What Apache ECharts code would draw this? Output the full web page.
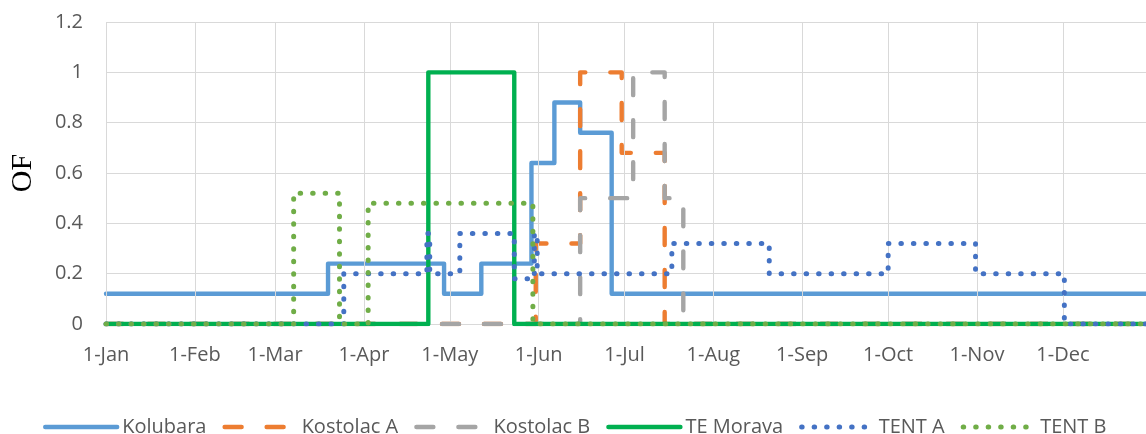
<!DOCTYPE html>
<html>
<head>
<meta charset="utf-8">
<script src="https://cdn.jsdelivr.net/npm/echarts@6/dist/echarts.min.js"></script>
<style>
  html, body { margin: 0; padding: 0; background: #ffffff; }
  #chart { width: 1146px; height: 434px; }
</style>
</head>
<body>
<div id="chart"></div>
<script>
// ---- data (x = days since 1-Jan, y = OF) ----
const monthLabels = ['1-Jan','1-Feb','1-Mar','1-Apr','1-May','1-Jun','1-Jul','1-Aug','1-Sep','1-Oct','1-Nov','1-Dec'];
const monthStartDays = [0, 31, 59, 90, 120, 151, 181, 212, 243, 273, 304, 334];
const seriesNames = ['Kolubara', 'Kostolac A', 'Kostolac B', 'TE Morava', 'TENT A', 'TENT B'];

// step change points: [day, new value]
const kolubara  = [[0,0.12],[77.5,0.24],[118,0.12],[131,0.24],[148.5,0.64],[156.5,0.88],[165.5,0.76],[176.5,0.12],[365,0.12]];
const kostolacA = [[0,0],[150,0.32],[165.5,1.0],[180,0.68],[195,0],[365,0]];
const kostolacB = [[0,0],[165.5,0.5],[184,1.0],[195,0.5],[201.5,0],[365,0]];
const teMorava  = [[0,0],[112.5,1.0],[142.5,0],[365,0]];
const tentA     = [[0,0],[83,0.2],[112,0.36],[113,0.2],[123.5,0.36],[142.5,0.18],[149.5,0.36],[150.5,0.2],[197.5,0.32],[231.5,0.2],[273,0.32],[303.5,0.2],[334.5,0],[365,0]];
const tentB     = [[0,0],[65.5,0.52],[81.5,0],[91.5,0.48],[149,0],[365,0]];

const colors = ['#5B9BD5', '#ED7D31', '#A5A5A5', '#00B050', '#4472C4', '#70AD47'];
const seriesData = [kolubara, kostolacA, kostolacB, teMorava, tentA, tentB];

const dashLong = [17, 25];
const dotted = [0.5, 12];
const lineTypes = ['solid', dashLong, dashLong, 'solid', dotted, dotted];
const lineWidths = [4.4, 4.4, 4.4, 4.4, 5, 5];

const chart = echarts.init(document.getElementById('chart'), null, { renderer: 'canvas' });

const textColor = '#595959';
const gridColor = '#D9D9D9';
const font = 'Open Sans';

const series = seriesNames.map((name, i) => ({
  name: name,
  type: 'line',
  step: 'end',
  symbol: 'none',
  showSymbol: false,
  data: seriesData[i],
  color: colors[i],
  lineStyle: { color: colors[i], width: lineWidths[i], type: lineTypes[i], cap: 'round', join: 'round' },
  emphasis: { disabled: true },
  animation: false,
  z: 3 + i
}));

// month gridlines as a background layer
series.unshift({
  name: '_grid',
  type: 'line',
  data: [[0, 0]],
  symbol: 'none',
  lineStyle: { opacity: 0 },
  silent: true,
  animation: false,
  z: 1,
  markLine: {
    silent: true,
    symbol: 'none',
    animation: false,
    label: { show: false },
    lineStyle: { color: gridColor, width: 1, type: 'solid' },
    data: monthStartDays.map(d => ({ xAxis: d }))
  }
});

chart.setOption({
  animation: false,
  backgroundColor: '#ffffff',
  grid: { left: 102, right: 0, top: 22, bottom: 110, containLabel: false },
  xAxis: {
    type: 'value',
    min: 0,
    max: 363,
    axisLine: { show: true, lineStyle: { color: gridColor, width: 1 } },
    axisTick: { show: false },
    splitLine: { show: false },
    axisLabel: {
      customValues: monthStartDays,
      formatter: function (v) {
        const k = monthStartDays.indexOf(Math.round(v));
        return k >= 0 ? monthLabels[k] : '';
      },
      color: textColor,
      fontFamily: font,
      fontSize: 20,
      margin: 21,
      hideOverlap: false
    }
  },
  yAxis: {
    type: 'value',
    min: 0,
    max: 1.2,
    interval: 0.2,
    name: 'OF',
    nameLocation: 'middle',
    nameRotate: 90,
    nameGap: 68,
    nameTextStyle: { fontFamily: 'Liberation Serif', fontSize: 30, color: '#000000' },
    axisLine: { show: false },
    axisTick: { show: false },
    splitLine: { show: true, lineStyle: { color: gridColor, width: 1 } },
    axisLabel: {
      color: textColor,
      fontFamily: font,
      fontSize: 20,
      margin: 23,
      formatter: function (v) { return String(Math.round(v * 10) / 10); }
    }
  },
  legend: {
    data: seriesNames,
    left: 38,
    top: 412,
    itemWidth: 72,
    itemHeight: 22,
    itemGap: 16,
    itemStyle: { opacity: 0 },
    lineStyle: { width: 'inherit' },
    textStyle: { color: textColor, fontFamily: font, fontSize: 20 }
  },
  series: series
});
</script>
</body>
</html>
